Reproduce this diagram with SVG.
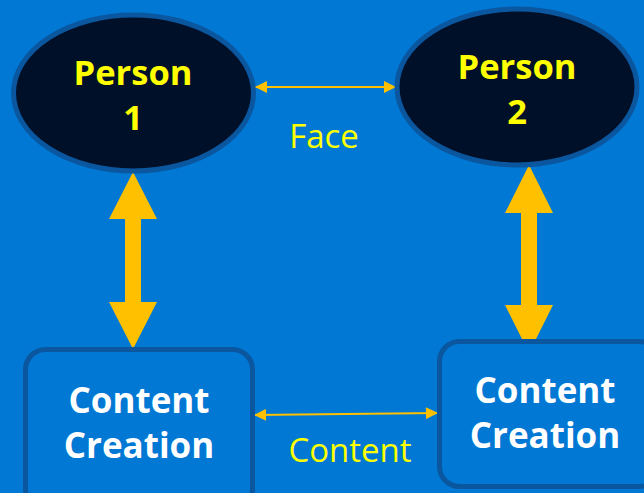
<svg xmlns="http://www.w3.org/2000/svg" width="644" height="493" viewBox="0 0 644 493">
<style>
.bg{fill:#0078D4}
.person{fill:#001029;stroke:#0A579F;stroke-width:5}
.box{fill:#0078D4;stroke:#0A579F;stroke-width:5}
.pt{font-family:"Open Sans","Noto Sans",sans-serif;font-weight:bold;font-size:34.5px;fill:#FFFF00;text-anchor:middle}
.bt{font-family:"Open Sans","Noto Sans",sans-serif;font-weight:bold;font-size:35px;fill:#FFFFFF;text-anchor:middle}
.lbl{font-family:"Open Sans","Noto Sans",sans-serif;font-size:33px;fill:#FFFF00;text-anchor:middle}
.thin{stroke:#FFC000;stroke-width:2;fill:none}
.big{fill:#FFC000}
</style>
<defs>
<marker id="ah" viewBox="0 0 10 10" refX="10" refY="5" markerWidth="7" markerHeight="6" markerUnits="strokeWidth" orient="auto-start-reverse">
<path d="M0,0 L10,5 L0,10 Z" fill="#FFC000"/>
</marker>
</defs>
<rect class="bg" x="0" y="0" width="644" height="493"/>
<g id="connectors">
<line class="thin" x1="255" y1="87" x2="396" y2="87" marker-start="url(#ah)" marker-end="url(#ah)"/>
<line class="thin" x1="254" y1="415" x2="438" y2="413" marker-start="url(#ah)" marker-end="url(#ah)"/>
<polygon class="big" points="133,172 157,219 141,219 141,302 157,302 133,349 109,302 125,302 125,219 109,219"/>
<polygon class="big" points="529,165 553,213 537,213 537,305 553,305 529,353 505,305 521,305 521,213 505,213"/>
<text class="lbl" x="324" y="148">Face</text>
<text class="lbl" x="350" y="462">Content</text>
</g>
<g id="person1">
<ellipse class="person" cx="133.5" cy="93" rx="120" ry="78"/>
<text class="pt" x="133" y="85">Person</text>
<text class="pt" x="133" y="130">1</text>
</g>
<g id="person2">
<ellipse class="person" cx="517" cy="87" rx="120" ry="78"/>
<text class="pt" x="517" y="79">Person</text>
<text class="pt" x="517" y="124">2</text>
</g>
<g id="content1">
<rect class="box" x="25.5" y="349.5" width="227" height="160" rx="20"/>
<text class="bt" x="139" y="413">Content</text>
<text class="bt" x="139" y="458">Creation</text>
</g>
<g id="content2">
<rect class="box" x="439.5" y="341.5" width="220" height="145" rx="20"/>
<text class="bt" x="545" y="403">Content</text>
<text class="bt" x="545" y="448">Creation</text>
</g>
</svg>
